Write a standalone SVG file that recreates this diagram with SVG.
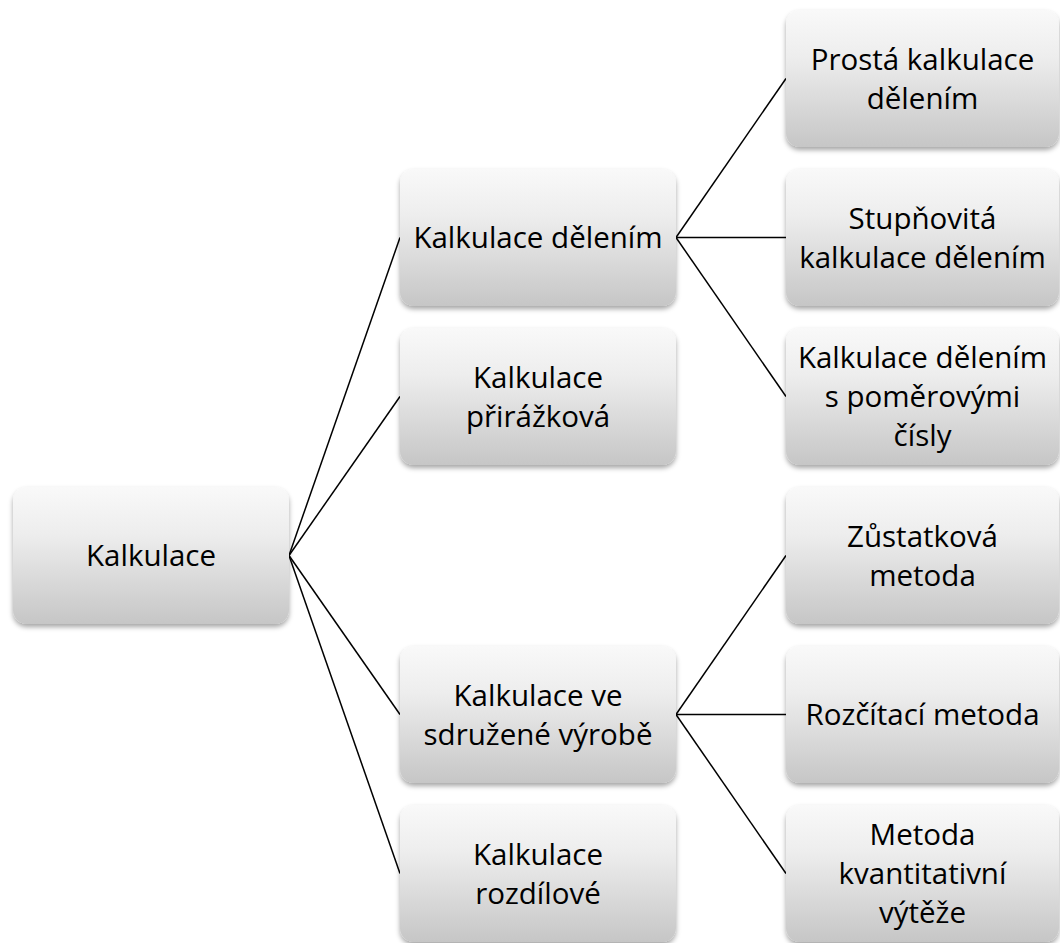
<svg xmlns="http://www.w3.org/2000/svg" width="1060" height="943" viewBox="0 0 1060 943">
<defs>
<linearGradient id="g" x1="0" y1="0" x2="0" y2="1">
<stop offset="0" stop-color="#f9f9f9"/>
<stop offset="0.35" stop-color="#ededed"/>
<stop offset="1" stop-color="#c6c6c6"/>
</linearGradient>
<filter id="sh" x="-10%" y="-10%" width="120%" height="125%">
<feDropShadow dx="0" dy="3" stdDeviation="2.5" flood-color="#000" flood-opacity="0.35"/>
</filter>
</defs>
<style>
rect.n{fill:url(#g);filter:url(#sh)}
text{font-family:"Open Sans","Noto Sans",sans-serif;font-size:29.5px;fill:#000;text-anchor:middle}
.c line{stroke:#000;stroke-width:1.5}
</style>
<rect width="1060" height="943" fill="#fff"/>
<g class="c" id="connectors">
<line x1="289" y1="555.5" x2="400" y2="237.5"/>
<line x1="289" y1="555.5" x2="400" y2="396.5"/>
<line x1="289" y1="555.5" x2="400" y2="714.5"/>
<line x1="289" y1="555.5" x2="400" y2="873.5"/>
<line x1="676" y1="237.5" x2="786" y2="78.5"/>
<line x1="676" y1="237.5" x2="786" y2="237.5"/>
<line x1="676" y1="237.5" x2="786" y2="396.5"/>
<line x1="676" y1="714.5" x2="786" y2="555.5"/>
<line x1="676" y1="714.5" x2="786" y2="714.5"/>
<line x1="676" y1="714.5" x2="786" y2="873.5"/>
</g>
<g id="root">
<rect class="n" x="13" y="487" width="276" height="137" rx="14"/>
<text x="151" y="566">Kalkulace</text>
</g>
<g id="delenim">
<rect class="n" x="400" y="169" width="276" height="137" rx="14"/>
<text x="538" y="248">Kalkulace dělením</text>
</g>
<g id="prirazkova">
<rect class="n" x="400" y="328" width="276" height="137" rx="14"/>
<text x="538" y="387.5">Kalkulace</text>
<text x="538" y="426.5">přirážková</text>
</g>
<g id="sdruzene">
<rect class="n" x="400" y="646" width="276" height="137" rx="14"/>
<text x="538" y="705.5">Kalkulace ve</text>
<text x="538" y="744.5">sdružené výrobě</text>
</g>
<g id="rozdilove">
<rect class="n" x="400" y="805" width="276" height="137" rx="14"/>
<text x="538" y="864.5">Kalkulace</text>
<text x="538" y="903.5">rozdílové</text>
</g>
<g id="prosta">
<rect class="n" x="786" y="10" width="273" height="137" rx="14"/>
<text x="922.5" y="69.5">Prostá kalkulace</text>
<text x="922.5" y="108.5">dělením</text>
</g>
<g id="stupnovita">
<rect class="n" x="786" y="169" width="273" height="137" rx="14"/>
<text x="922.5" y="228.5">Stupňovitá</text>
<text x="922.5" y="267.5">kalkulace dělením</text>
</g>
<g id="pomerova">
<rect class="n" x="786" y="328" width="273" height="137" rx="14"/>
<text x="922.5" y="368">Kalkulace dělením</text>
<text x="922.5" y="407">s poměrovými</text>
<text x="922.5" y="446">čísly</text>
</g>
<g id="zustatkova">
<rect class="n" x="786" y="487" width="273" height="137" rx="14"/>
<text x="922.5" y="546.5">Zůstatková</text>
<text x="922.5" y="585.5">metoda</text>
</g>
<g id="rozcitaci">
<rect class="n" x="786" y="646" width="273" height="137" rx="14"/>
<text x="922.5" y="725">Rozčítací metoda</text>
</g>
<g id="vyteze">
<rect class="n" x="786" y="805" width="273" height="137" rx="14"/>
<text x="922.5" y="845">Metoda</text>
<text x="922.5" y="884">kvantitativní</text>
<text x="922.5" y="923">výtěže</text>
</g>
</svg>
